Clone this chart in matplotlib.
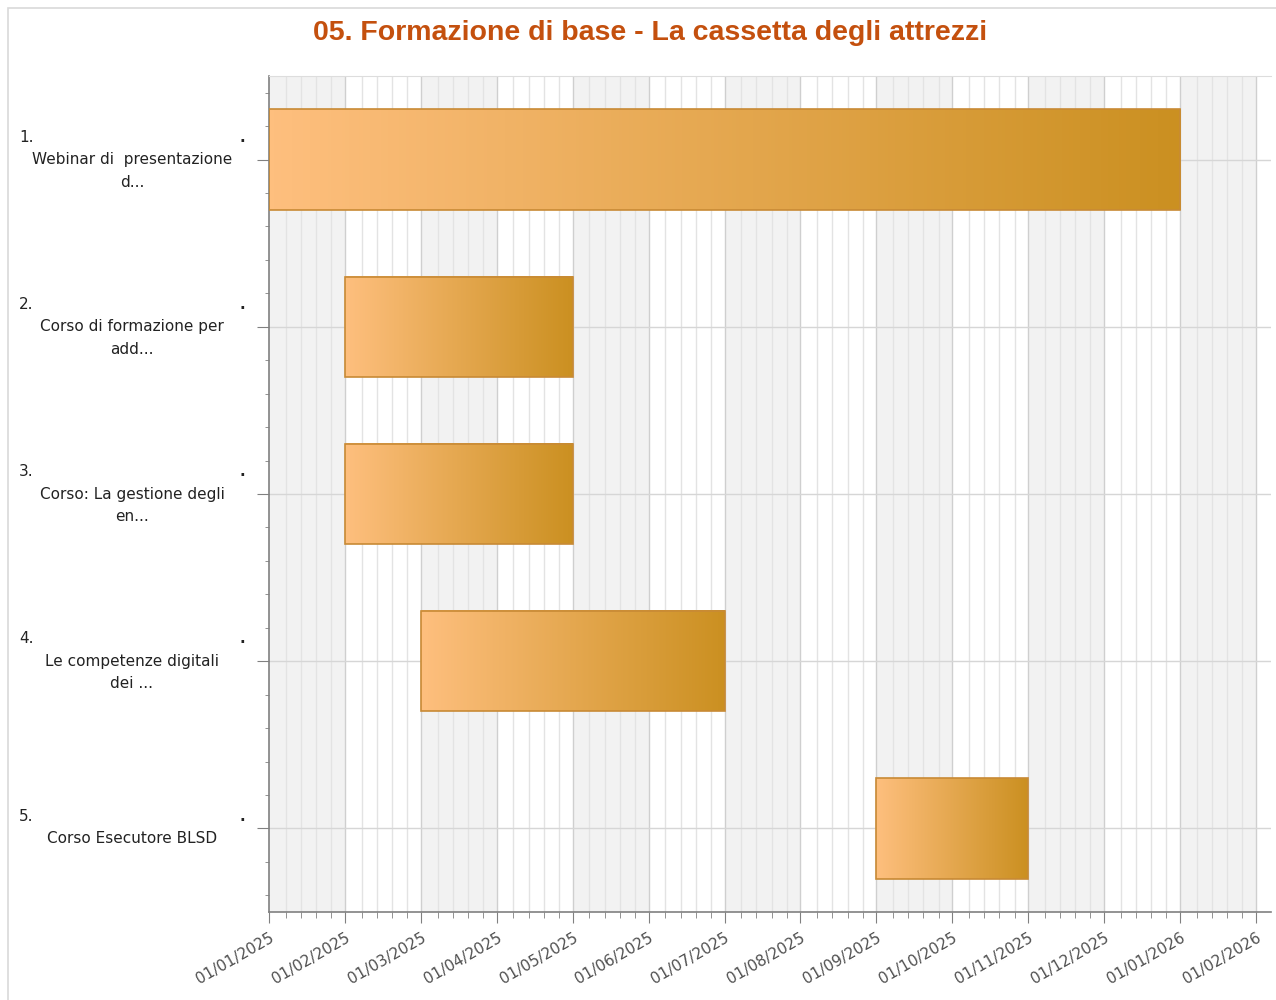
import matplotlib
matplotlib.use("Agg")
import matplotlib.pyplot as plt
import numpy as np
from matplotlib.colors import LinearSegmentedColormap
from matplotlib.transforms import blended_transform_factory
from matplotlib.patches import Rectangle
import calendar

title = "05. Formazione di base - La cassetta degli attrezzi"
numbers = ["1.", "2.", "3.", "4.", "5."]
names = [
    "Webinar di  presentazione\nd...",
    "Corso di formazione per\nadd...",
    "Corso: La gestione degli\nen...",
    "Le competenze digitali\ndei ...",
    "Corso Esecutore BLSD",
]
start_dates = ["01/01/2025", "01/02/2025", "01/02/2025", "01/03/2025", "01/09/2025"]
end_dates = ["01/01/2026", "01/05/2025", "01/05/2025", "01/07/2025", "01/11/2025"]
tick_labels = ["01/01/2025", "01/02/2025", "01/03/2025", "01/04/2025", "01/05/2025",
               "01/06/2025", "01/07/2025", "01/08/2025", "01/09/2025", "01/10/2025",
               "01/11/2025", "01/12/2025", "01/01/2026", "01/02/2026"]


def month_index(s):
    d, m, y = (int(v) for v in s.split("/"))
    ndays = calendar.monthrange(y, m)[1]
    return (y - 2025) * 12 + (m - 1) + (d - 1) / ndays


W, H = 1276, 1000
fig = plt.figure(figsize=(W / 100, H / 100), dpi=100)
fig.patch.set_facecolor("white")
# outer frame
fig.patches.append(Rectangle((8 / W, -0.01), 1.02 - 8 / W, 1 - 8 / H + 0.01,
                             transform=fig.transFigure, fill=False,
                             edgecolor="#D9D9D9", lw=1.2))

left, right, top, bottom = 269 / W, 1271 / W, 1 - 76 / H, 1 - 912 / H
ax = fig.add_axes([left, bottom, right - left, top - bottom])
n = len(names)
xmax = (1271 - 269) / ((1256 - 269) / 13)
ax.set_xlim(0, xmax)
ax.set_ylim(n - 0.5, -0.5)

# alternating month bands
for i in range(int(np.ceil(xmax))):
    if i % 2 == 0:
        ax.axvspan(i, min(i + 1, xmax), color="#F2F2F2", zorder=0, lw=0)
# minor grid
for i in range(int(np.ceil(xmax))):
    for k in (0.22, 0.42, 0.62, 0.82):
        if i + k < xmax:
            ax.axvline(i + k, color="#E3E3E3", lw=1, zorder=0.5)
for i in range(1, int(np.ceil(xmax))):
    ax.axvline(i, color="#CFCFCF", lw=1, zorder=0.6)
for j in range(n):
    ax.axhline(j, color="#D6D6D6", lw=1, zorder=0.6)

cmap = LinearSegmentedColormap.from_list("g", ["#FEBF7E", "#CB9021"])
grad = np.linspace(0, 1, 256).reshape(1, -1)
bh = 0.6
for j in range(n):
    s, e = month_index(start_dates[j]), month_index(end_dates[j])
    ax.imshow(grad, extent=[s, e, j + bh / 2, j - bh / 2], cmap=cmap,
              aspect="auto", zorder=2, interpolation="bilinear")
    ax.add_patch(Rectangle((s, j - bh / 2), e - s, bh, fill=False,
                           edgecolor="#C88A35", lw=1.2, zorder=3))
ax.set_xlim(0, xmax)
ax.set_ylim(n - 0.5, -0.5)

# ticks
ax.set_xticks(range(len(tick_labels)))
ax.set_xticklabels(tick_labels, rotation=30, ha="right", rotation_mode="anchor",
                   fontsize=11, color="#505050")
minor_x = [i + k for i in range(int(np.ceil(xmax))) for k in (0.22, 0.42, 0.62, 0.82) if i + k < xmax]
ax.set_xticks(minor_x, minor=True)
ax.tick_params(axis="x", which="major", length=8, color="#808080", pad=5)
ax.tick_params(axis="x", which="minor", length=4, color="#808080")
ax.set_yticks(range(n))
ax.set_yticklabels([""] * n)
ax.set_yticks([j + d for j in range(n) for d in (-0.4, -0.2, 0.2, 0.4)], minor=True)
ax.tick_params(axis="y", which="major", length=9, color="#808080")
ax.tick_params(axis="y", which="minor", length=3, color="#808080")

for sp in ("left", "bottom"):
    ax.spines[sp].set_color("#808080")
    ax.spines[sp].set_linewidth(1.2)
ax.spines["right"].set_visible(False)
ax.spines["top"].set_color("#DDDDDD")

# y labels
tr = blended_transform_factory(fig.transFigure, ax.transData)
lh = 0.135
for j in range(n):
    nlines = names[j].count("\n") + 1
    first = j - lh * nlines / 2 if nlines > 1 else j - lh / 2 - 0.005
    ax.text(19 / W, first, numbers[j], transform=tr, ha="left", va="center",
            fontsize=11, color="#222222")
    ax.text(242 / W, first, ".", transform=tr, ha="center", va="center",
            fontsize=11, color="#222222", fontweight="bold")
    for li, line in enumerate(names[j].split("\n")):
        ax.text(132 / W, first + lh * (li + 1), line, transform=tr, ha="center",
                va="center", fontsize=11, color="#222222")

fig.text(650 / W, 1 - 33 / H, title, ha="center", va="center", fontsize=20.5,
         fontweight="bold", color="#C4500E", family="Liberation Sans")

fig.savefig("out.png", dpi=100)
